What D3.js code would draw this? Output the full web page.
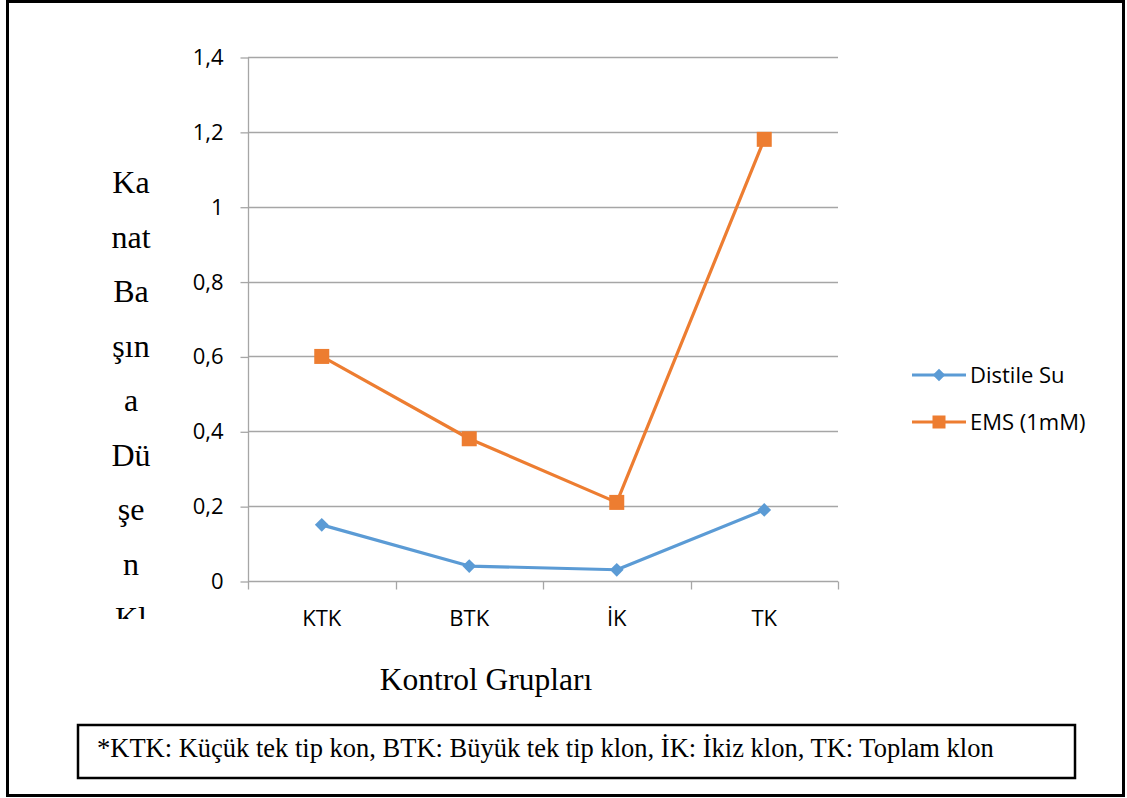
<!DOCTYPE html>
<html>
<head>
<meta charset="utf-8">
<script src="https://cdn.jsdelivr.net/npm/d3@7"></script>
<style>
  body { margin: 0; background: #fff; }
</style>
</head>
<body>
<div id="chart"></div>
<script>
const width = 1127;
const height = 798;

// Data
const categories = ["KTK", "BTK", "İK", "TK"];
const distileSu = [0.15, 0.04, 0.03, 0.19];
const ems = [0.6, 0.38, 0.21, 1.18];
const yTicks = [0, 0.2, 0.4, 0.6, 0.8, 1, 1.2, 1.4];
const yTitleParts = ["Ka", "nat", "Ba", "şın", "a", "Dü", "şe", "n", "Kl"];
const seriesNames = ["Distile Su", "EMS (1mM)"];

const blue = "#5B9BD5";
const orange = "#ED7D31";
const gridColor = "#A6A6A6";
const sansFont = "'Open Sans', sans-serif";
const serifFont = "'Liberation Serif', 'Times New Roman', serif";

const svg = d3.select("#chart")
    .append("svg")
    .attr("width", width)
    .attr("height", height);

// Outer frame
svg.append("rect")
    .attr("x", 7.5).attr("y", 1.5)
    .attr("width", 1116).attr("height", 794)
    .attr("fill", "none")
    .attr("stroke", "#000")
    .attr("stroke-width", 3);

const plot = { left: 248, right: 838, top: 57, bottom: 581 };

const x = d3.scaleBand()
    .domain(categories)
    .range([plot.left, plot.right]);

const y = d3.scaleLinear()
    .domain([0, 1.4])
    .range([plot.bottom, plot.top]);

// Horizontal gridlines
svg.append("g")
    .selectAll("line")
    .data(yTicks.filter(d => d > 0))
    .enter()
    .append("line")
    .attr("x1", plot.left)
    .attr("x2", plot.right)
    .attr("y1", d => Math.round(y(d)) + 0.5)
    .attr("y2", d => Math.round(y(d)) + 0.5)
    .attr("stroke", gridColor)
    .attr("stroke-width", 1.3);

// Y axis
const yAxis = svg.append("g")
    .attr("transform", `translate(${plot.left + 0.5},0.5)`)
    .call(d3.axisLeft(y)
        .tickValues(yTicks)
        .tickSize(8)
        .tickPadding(17)
        .tickFormat(d => d3.format("~g")(d).replace(".", ",")));

yAxis.select(".domain")
    .attr("stroke", gridColor)
    .attr("stroke-width", 1.3)
    .attr("d", `M0,${Math.round(y(1.4))}V${Math.round(y(0))}`);
yAxis.selectAll(".tick line").attr("stroke", gridColor).attr("stroke-width", 1.3);
yAxis.selectAll(".tick text")
    .attr("fill", "#000")
    .style("font-family", sansFont)
    .style("font-size", "22px");

// X axis (ticks between categories)
const xAxisG = svg.append("g")
    .attr("transform", `translate(0,${Math.round(plot.bottom) + 0.5})`);

xAxisG.append("line")
    .attr("x1", plot.left)
    .attr("x2", plot.right)
    .attr("stroke", gridColor)
    .attr("stroke-width", 1.3);

const boundaries = categories.map(c => x(c)).concat([plot.right]);
xAxisG.selectAll("line.tick")
    .data(boundaries)
    .enter()
    .append("line")
    .attr("class", "tick")
    .attr("x1", d => Math.round(d) + 0.5)
    .attr("x2", d => Math.round(d) + 0.5)
    .attr("y1", 0)
    .attr("y2", 8)
    .attr("stroke", gridColor)
    .attr("stroke-width", 1.3);

xAxisG.selectAll("text")
    .data(categories)
    .enter()
    .append("text")
    .attr("x", d => x(d) + x.bandwidth() / 2)
    .attr("y", 44)
    .attr("text-anchor", "middle")
    .style("font-family", sansFont)
    .style("font-size", "22px")
    .text(d => d);

// Lines
const line = d3.line()
    .x((d, i) => x(categories[i]) + x.bandwidth() / 2)
    .y(d => y(d));

svg.append("path")
    .datum(distileSu)
    .attr("d", line)
    .attr("fill", "none")
    .attr("stroke", blue)
    .attr("stroke-width", 3.2)
    .attr("stroke-linejoin", "round");

svg.append("path")
    .datum(ems)
    .attr("d", line)
    .attr("fill", "none")
    .attr("stroke", orange)
    .attr("stroke-width", 3.2)
    .attr("stroke-linejoin", "round");

// Markers
const diamond = d3.symbol().type(d3.symbolDiamond2).size(120);

svg.selectAll("path.diamond")
    .data(distileSu)
    .enter()
    .append("path")
    .attr("class", "diamond")
    .attr("d", diamond)
    .attr("transform", (d, i) => `translate(${x(categories[i]) + x.bandwidth() / 2},${y(d)})`)
    .attr("fill", blue);

svg.selectAll("rect.square")
    .data(ems)
    .enter()
    .append("rect")
    .attr("class", "square")
    .attr("x", (d, i) => x(categories[i]) + x.bandwidth() / 2 - 7.5)
    .attr("y", d => y(d) - 7.5)
    .attr("width", 15)
    .attr("height", 15)
    .attr("fill", orange);

// Legend
const legend = svg.append("g")
    .attr("transform", "translate(912,375)");

const legendRows = legend.selectAll("g")
    .data(seriesNames)
    .enter()
    .append("g")
    .attr("transform", (d, i) => `translate(0,${i * 47})`);

legendRows.append("line")
    .attr("x1", 0).attr("x2", 54)
    .attr("stroke", (d, i) => i === 0 ? blue : orange)
    .attr("stroke-width", 3.2);

legendRows.filter((d, i) => i === 0)
    .append("path")
    .attr("d", d3.symbol().type(d3.symbolDiamond2).size(100))
    .attr("transform", "translate(27,0)")
    .attr("fill", blue);

legendRows.filter((d, i) => i === 1)
    .append("rect")
    .attr("x", 20.5).attr("y", -6.5)
    .attr("width", 13).attr("height", 13)
    .attr("fill", orange);

legendRows.append("text")
    .attr("x", 58)
    .attr("y", 8)
    .style("font-family", sansFont)
    .style("font-size", "22px")
    .text(d => d);

// Y axis title, broken into stacked pieces and clipped at the bottom
svg.append("clipPath")
    .attr("id", "ytitle-clip")
    .append("rect")
    .attr("x", 80).attr("y", 150)
    .attr("width", 110).attr("height", 469);

svg.append("g")
    .attr("clip-path", "url(#ytitle-clip)")
    .selectAll("text")
    .data(yTitleParts)
    .enter()
    .append("text")
    .attr("x", 131)
    .attr("y", (d, i) => 193 + i * 54.5)
    .attr("text-anchor", "middle")
    .style("font-family", serifFont)
    .style("font-size", "32px")
    .text(d => d);

// X axis title
svg.append("text")
    .attr("x", 486)
    .attr("y", 690)
    .attr("text-anchor", "middle")
    .style("font-family", serifFont)
    .style("font-size", "31.5px")
    .text("Kontrol Grupları");

// Footnote box
svg.append("rect")
    .attr("x", 78).attr("y", 725)
    .attr("width", 997).attr("height", 53)
    .attr("fill", "none")
    .attr("stroke", "#000")
    .attr("stroke-width", 2.5);

svg.append("text")
    .attr("x", 97)
    .attr("y", 757)
    .style("font-family", serifFont)
    .style("font-size", "26.5px")
    .text("*KTK: Küçük tek tip kon, BTK: Büyük tek tip klon, İK: İkiz klon, TK: Toplam klon");
</script>
</body>
</html>
